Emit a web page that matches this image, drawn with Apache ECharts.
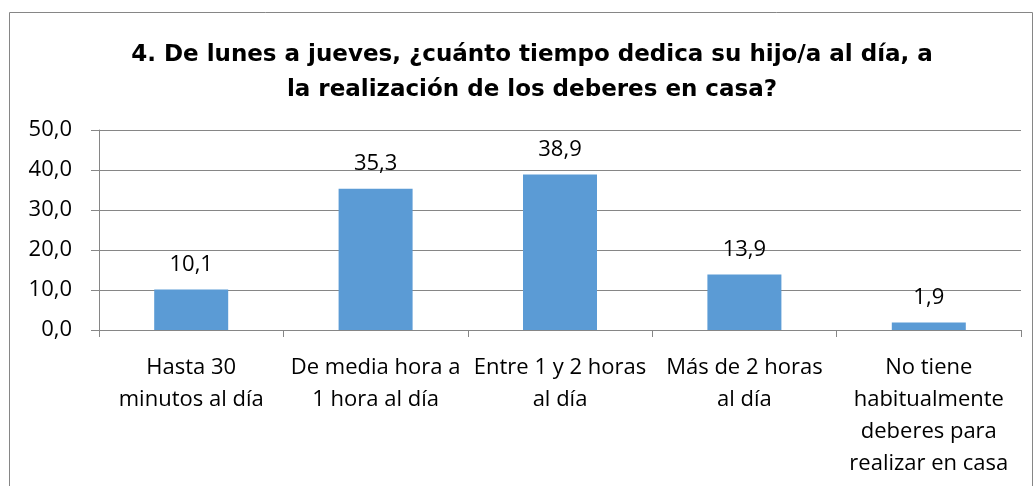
<!DOCTYPE html>
<html>
<head>
<meta charset="utf-8">
<script src="https://cdn.jsdelivr.net/npm/echarts@6/dist/echarts.min.js"></script>
<style>
html, body { margin: 0; padding: 0; background: #fff; }
#main { width: 1035px; height: 486px; }
</style>
</head>
<body>
<div id="main"></div>
<script>
var categories = [
	'Hasta 30\nminutos al día',
	'De media hora a\n1 hora al día',
	'Entre 1 y 2 horas\nal día',
	'Más de 2 horas\nal día',
	'No tiene\nhabitualmente\ndeberes para\nrealizar en casa'
];
var values = [10.1, 35.3, 38.9, 13.9, 1.9];
var titleText = '4. De lunes a jueves, ¿cuánto tiempo dedica su hijo/a al día, a\nla realización de los deberes en casa?';

var fmt = function (v) {
	return Number(v).toFixed(1).replace('.', ',');
};

var myChart = echarts.init(document.getElementById('main'));
var option = {
	backgroundColor: '#fff',
	animation: false,
	title: {
		text: titleText,
		left: 527,
		textAlign: 'center',
		top: 33,
		textStyle: {
			fontFamily: 'DejaVu Sans',
			fontWeight: 'bold',
			fontSize: 23,
			lineHeight: 35,
			color: '#000'
		}
	},
	graphic: [{
		type: 'rect',
		shape: { x: 9.5, y: 12.5, width: 1023, height: 480 },
		style: { fill: 'none', stroke: '#868686', lineWidth: 1 },
		silent: true
	}],
	grid: {
		left: 99,
		right: 14,
		top: 130,
		bottom: 156
	},
	xAxis: {
		type: 'category',
		data: categories,
		axisLine: { lineStyle: { color: '#868686' } },
		axisTick: { show: true, length: 7, alignWithLabel: false, lineStyle: { color: '#868686' } },
		axisLabel: {
			interval: 0,
			margin: 22,
			fontFamily: 'Open Sans',
			fontSize: 22,
			lineHeight: 32,
			color: '#000'
		}
	},
	yAxis: {
		type: 'value',
		min: 0,
		max: 50,
		interval: 10,
		axisLine: { show: true, lineStyle: { color: '#868686' } },
		axisTick: { show: true, length: 8, lineStyle: { color: '#868686' } },
		splitLine: { show: true, lineStyle: { color: '#868686' } },
		axisLabel: {
			formatter: fmt,
			margin: 27,
			fontFamily: 'Open Sans',
			fontSize: 22,
			color: '#000'
		}
	},
	series: [{
		type: 'bar',
		data: values,
		barWidth: 74,
		itemStyle: { color: '#5B9BD5' },
		label: {
			show: true,
			position: 'top',
			distance: 14,
			formatter: function (p) { return fmt(p.value); },
			fontFamily: 'Open Sans',
			fontSize: 22,
			color: '#000'
		}
	}]
};
myChart.setOption(option);
</script>
</body>
</html>
